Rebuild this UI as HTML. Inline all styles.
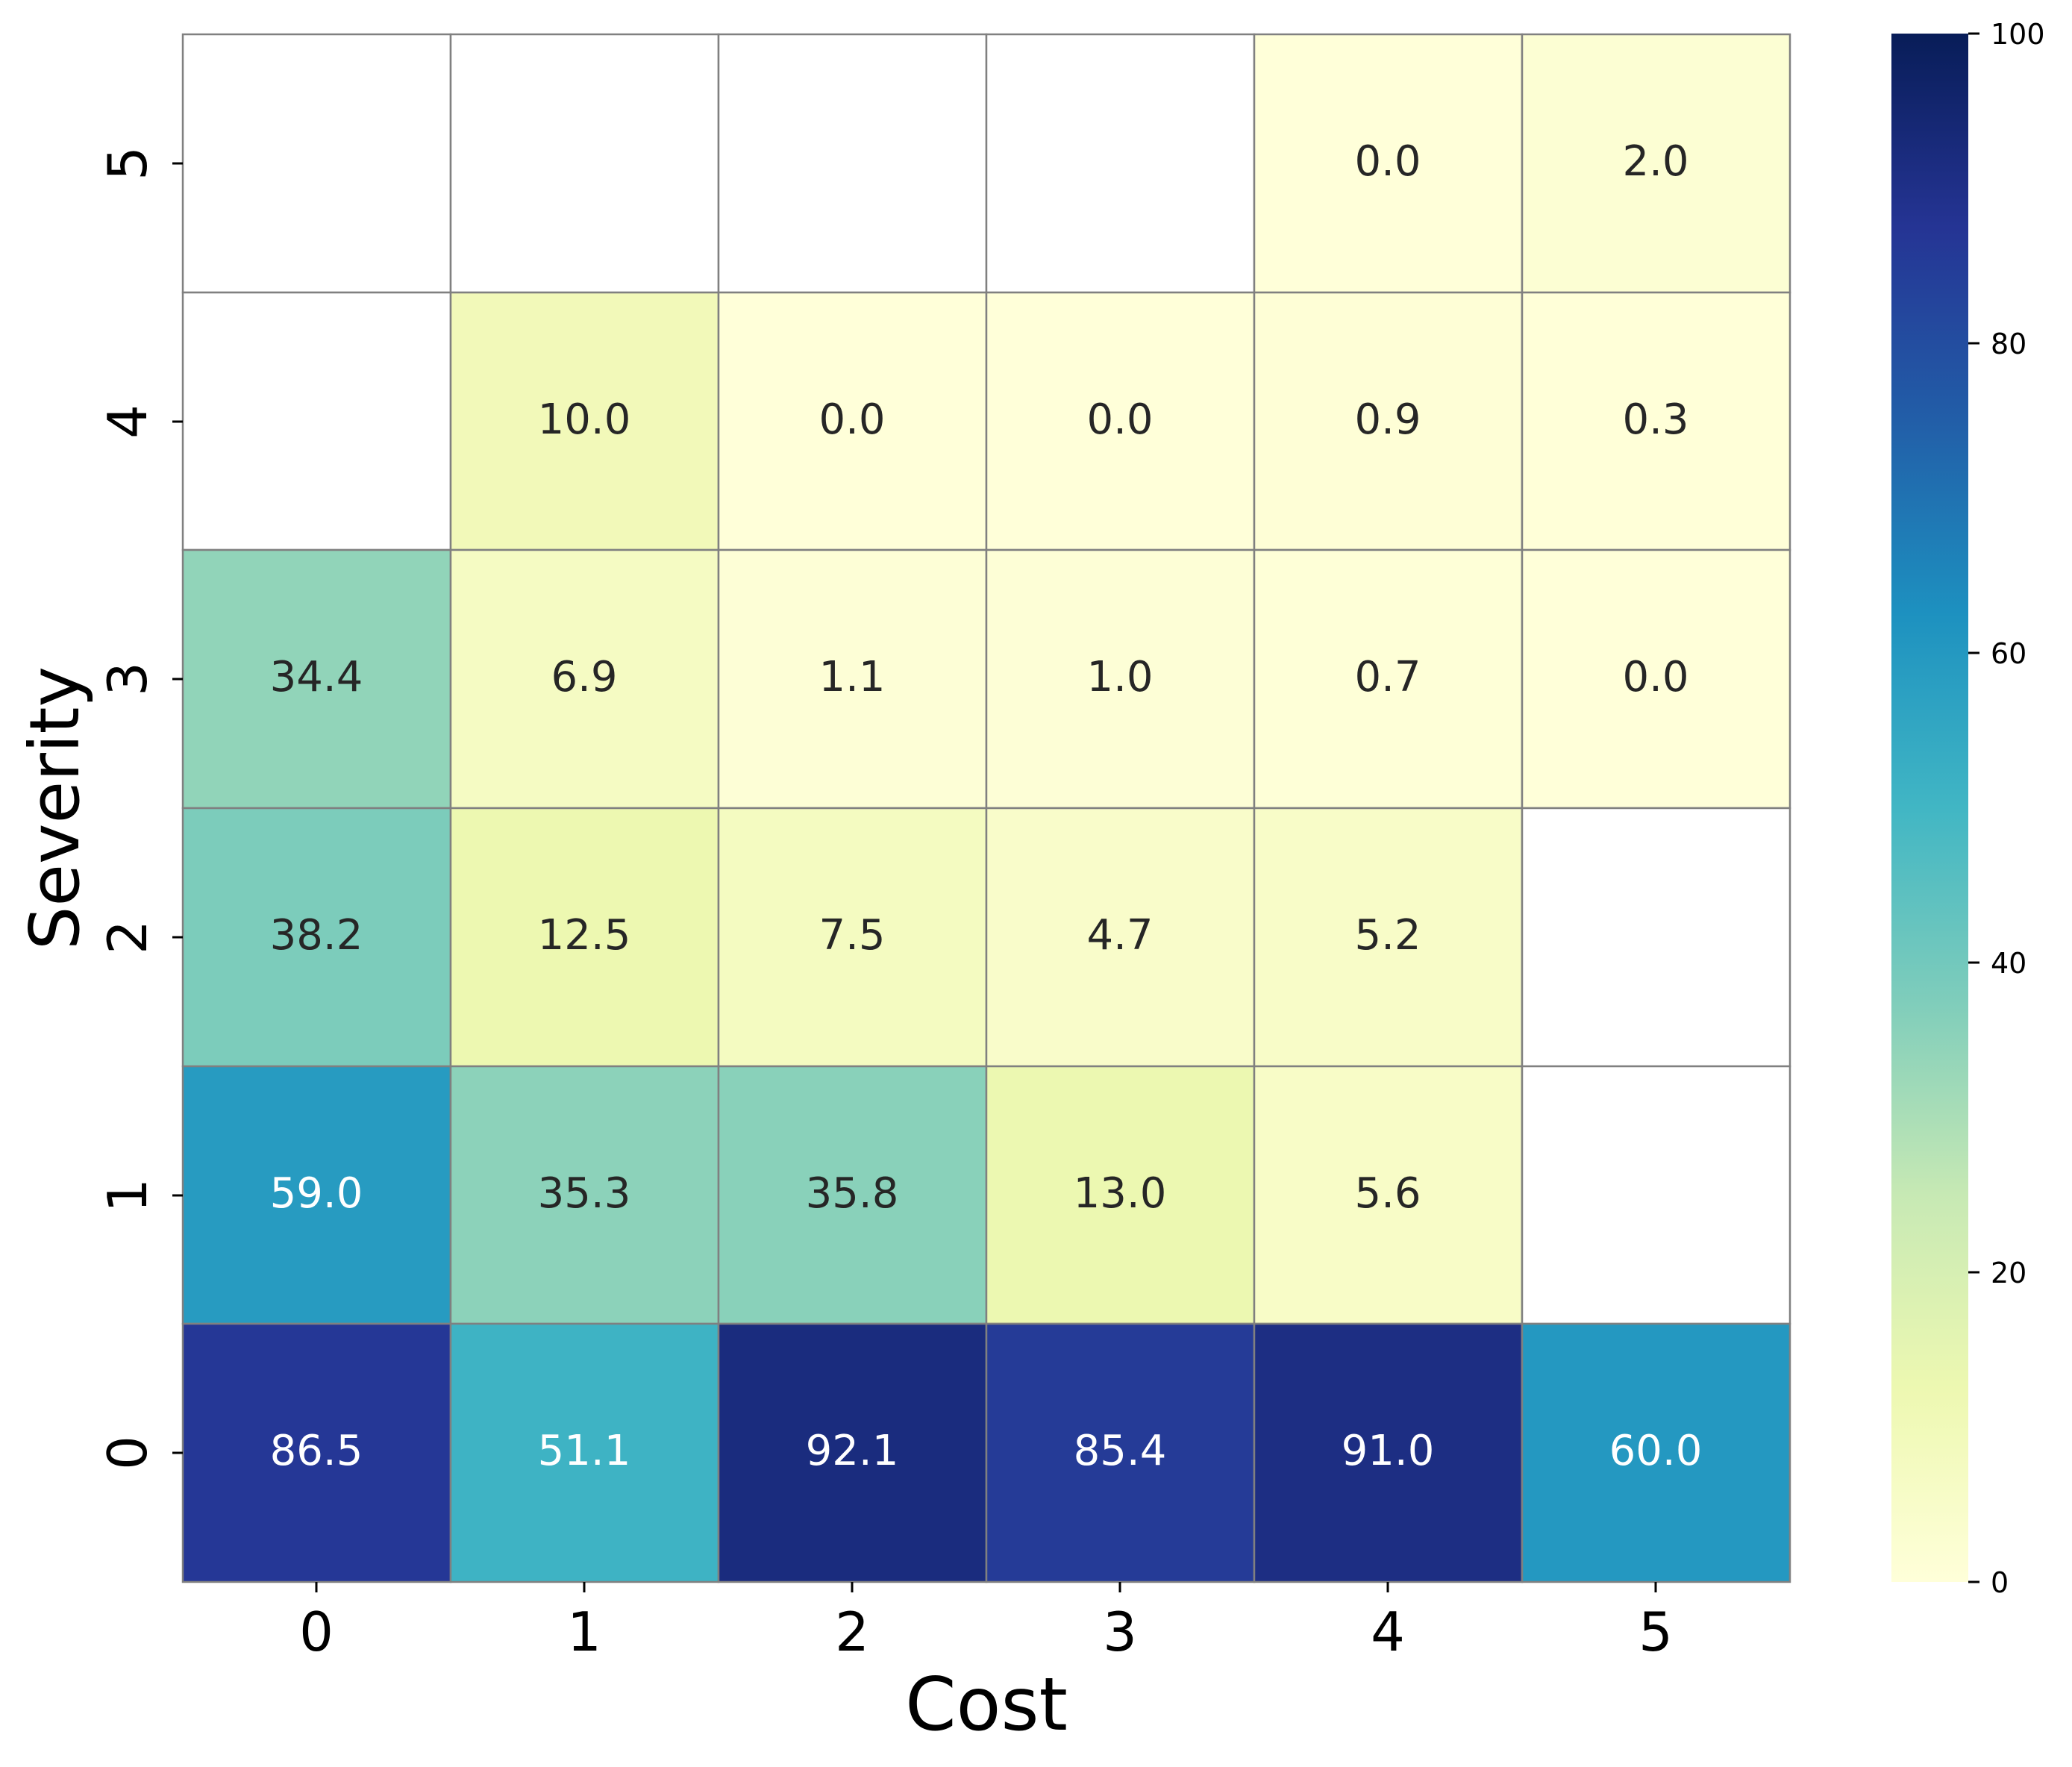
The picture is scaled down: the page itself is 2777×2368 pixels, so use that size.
<!DOCTYPE html>
<html><head><meta charset="utf-8"><style>html,body{margin:0;padding:0;background:#fff}svg{display:block}text{font-family:"DejaVu Sans","Liberation Sans",sans-serif}</style></head>
<body>
<svg width="2777" height="2368" viewBox="0 0 2777 2368" xmlns="http://www.w3.org/2000/svg">
<defs>
<linearGradient id="cb" x1="0" y1="1" x2="0" y2="0">
<stop offset="0" stop-color="#ffffd9"/><stop offset="0.125" stop-color="#edf8b1"/><stop offset="0.25" stop-color="#c7e9b4"/><stop offset="0.375" stop-color="#7fcdbb"/><stop offset="0.5" stop-color="#41b6c4"/><stop offset="0.625" stop-color="#1d91c0"/><stop offset="0.75" stop-color="#225ea8"/><stop offset="0.875" stop-color="#253494"/><stop offset="1" stop-color="#081d58"/>
</linearGradient>
</defs>
<g stroke="#808080" stroke-width="2.5">
<rect x="245" y="46" width="359" height="346" fill="#fff"/>
<rect x="604" y="46" width="359" height="346" fill="#fff"/>
<rect x="963" y="46" width="359" height="346" fill="#fff"/>
<rect x="1322" y="46" width="359" height="346" fill="#fff"/>
<rect x="1681" y="46" width="359" height="346" fill="rgb(255,255,217)"/>
<rect x="2040" y="46" width="359" height="346" fill="rgb(252,254,211)"/>
<rect x="245" y="392" width="359" height="345" fill="#fff"/>
<rect x="604" y="392" width="359" height="345" fill="rgb(242,249,185)"/>
<rect x="963" y="392" width="359" height="345" fill="rgb(255,255,217)"/>
<rect x="1322" y="392" width="359" height="345" fill="rgb(255,255,217)"/>
<rect x="1681" y="392" width="359" height="345" fill="rgb(254,254,214)"/>
<rect x="2040" y="392" width="359" height="345" fill="rgb(255,255,216)"/>
<rect x="245" y="737" width="359" height="346" fill="rgb(145,212,185)"/>
<rect x="604" y="737" width="359" height="346" fill="rgb(245,251,195)"/>
<rect x="963" y="737" width="359" height="346" fill="rgb(253,254,214)"/>
<rect x="1322" y="737" width="359" height="346" fill="rgb(253,254,214)"/>
<rect x="1681" y="737" width="359" height="346" fill="rgb(254,255,215)"/>
<rect x="2040" y="737" width="359" height="346" fill="rgb(255,255,217)"/>
<rect x="245" y="1083" width="359" height="346" fill="rgb(124,204,187)"/>
<rect x="604" y="1083" width="359" height="346" fill="rgb(237,248,177)"/>
<rect x="963" y="1083" width="359" height="346" fill="rgb(244,251,193)"/>
<rect x="1322" y="1083" width="359" height="346" fill="rgb(249,252,202)"/>
<rect x="1681" y="1083" width="359" height="346" fill="rgb(248,252,200)"/>
<rect x="2040" y="1083" width="359" height="346" fill="#fff"/>
<rect x="245" y="1429" width="359" height="345" fill="rgb(39,155,193)"/>
<rect x="604" y="1429" width="359" height="345" fill="rgb(140,210,186)"/>
<rect x="963" y="1429" width="359" height="345" fill="rgb(137,209,186)"/>
<rect x="1322" y="1429" width="359" height="345" fill="rgb(236,248,177)"/>
<rect x="1681" y="1429" width="359" height="345" fill="rgb(248,252,199)"/>
<rect x="2040" y="1429" width="359" height="345" fill="#fff"/>
<rect x="245" y="1774" width="359" height="346" fill="rgb(37,55,150)"/>
<rect x="604" y="1774" width="359" height="346" fill="rgb(62,179,196)"/>
<rect x="963" y="1774" width="359" height="346" fill="rgb(26,44,126)"/>
<rect x="1322" y="1774" width="359" height="346" fill="rgb(37,59,151)"/>
<rect x="1681" y="1774" width="359" height="346" fill="rgb(29,46,131)"/>
<rect x="2040" y="1774" width="359" height="346" fill="rgb(36,152,193)"/>
</g>
<g font-size="56" text-anchor="middle" fill="#262626">
<text x="1860" y="235">0.0</text><text x="2219" y="235">2.0</text>
<text x="783" y="581">10.0</text><text x="1142" y="581">0.0</text><text x="1501" y="581">0.0</text><text x="1860" y="581">0.9</text><text x="2219" y="581">0.3</text>
<text x="424" y="926">34.4</text><text x="783" y="926">6.9</text><text x="1142" y="926">1.1</text><text x="1501" y="926">1.0</text><text x="1860" y="926">0.7</text><text x="2219" y="926">0.0</text>
<text x="424" y="1272">38.2</text><text x="783" y="1272">12.5</text><text x="1142" y="1272">7.5</text><text x="1501" y="1272">4.7</text><text x="1860" y="1272">5.2</text>
<text x="783" y="1618">35.3</text><text x="1142" y="1618">35.8</text><text x="1501" y="1618">13.0</text><text x="1860" y="1618">5.6</text>
</g>
<g font-size="56" text-anchor="middle" fill="#fff">
<text x="424" y="1618">59.0</text>
<text x="424" y="1963">86.5</text><text x="783" y="1963">51.1</text><text x="1142" y="1963">92.1</text><text x="1501" y="1963">85.4</text><text x="1860" y="1963">91.0</text><text x="2219" y="1963">60.0</text>
</g>
<g stroke="#000" stroke-width="3">
<line x1="424" y1="2120" x2="424" y2="2134"/><line x1="783" y1="2120" x2="783" y2="2134"/><line x1="1142" y1="2120" x2="1142" y2="2134"/><line x1="1501" y1="2120" x2="1501" y2="2134"/><line x1="1860" y1="2120" x2="1860" y2="2134"/><line x1="2219" y1="2120" x2="2219" y2="2134"/>
<line x1="231" y1="219" x2="245" y2="219"/><line x1="231" y1="565" x2="245" y2="565"/><line x1="231" y1="910" x2="245" y2="910"/><line x1="231" y1="1256" x2="245" y2="1256"/><line x1="231" y1="1602" x2="245" y2="1602"/><line x1="231" y1="1947" x2="245" y2="1947"/>
</g>
<g font-size="72" text-anchor="middle" fill="#000">
<text x="424" y="2212">0</text><text x="783" y="2212">1</text><text x="1142" y="2212">2</text><text x="1501" y="2212">3</text><text x="1860" y="2212">4</text><text x="2219" y="2212">5</text>
<text transform="translate(196,219) rotate(-90)">5</text>
<text transform="translate(196,565) rotate(-90)">4</text>
<text transform="translate(196,910) rotate(-90)">3</text>
<text transform="translate(196,1256) rotate(-90)">2</text>
<text transform="translate(196,1602) rotate(-90)">1</text>
<text transform="translate(196,1947) rotate(-90)">0</text>
</g>
<text x="1322" y="2318" font-size="98" text-anchor="middle">Cost</text>
<text transform="translate(72,1083) rotate(-90)" font-size="92" text-anchor="middle" dy="33">Severity</text>
<rect x="2535" y="45" width="103" height="2075" fill="url(#cb)"/>
<g stroke="#000" stroke-width="3">
<line x1="2638" y1="2120" x2="2653" y2="2120"/><line x1="2638" y1="1705" x2="2653" y2="1705"/><line x1="2638" y1="1290" x2="2653" y2="1290"/><line x1="2638" y1="875" x2="2653" y2="875"/><line x1="2638" y1="460" x2="2653" y2="460"/><line x1="2638" y1="45" x2="2653" y2="45"/>
</g>
<g font-size="38" fill="#000">
<text x="2668" y="2134">0</text><text x="2668" y="1719">20</text><text x="2668" y="1304">40</text><text x="2668" y="889">60</text><text x="2668" y="474">80</text><text x="2668" y="59">100</text>
</g>
</svg>
</body></html>
